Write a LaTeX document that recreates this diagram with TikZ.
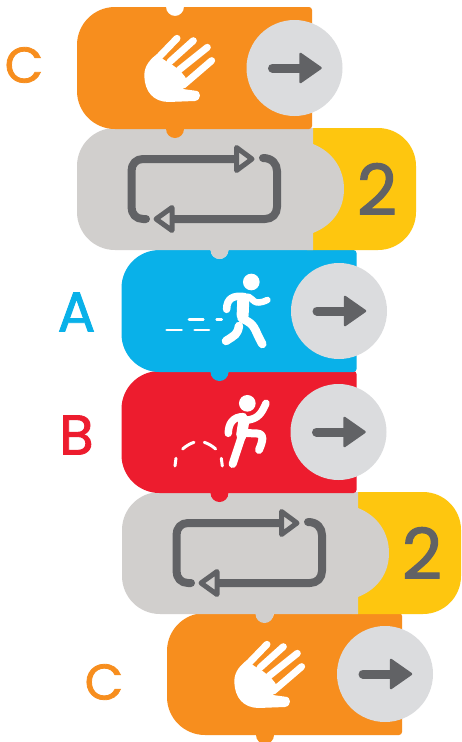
\documentclass[tikz,border=0pt]{standalone}
\usepackage{fontspec}
\setmainfont{Poppins}
\newfontfamily\heavyfont[FakeBold=1.6]{Poppins}
\definecolor{corange}{HTML}{F78E1E}
\definecolor{cgray}{HTML}{D1CFCD}
\definecolor{cyellow}{HTML}{FEC60F}
\definecolor{cblue}{HTML}{09B1E9}
\definecolor{cred}{HTML}{ED1C2E}
\definecolor{ccircle}{HTML}{DBDCDE}
\definecolor{cdark}{HTML}{616265}
\tikzset{
  x=1pt,y=-1pt,
  bigletter/.style={inner sep=0pt,font=\heavyfont\fontsize{50}{50}\selectfont},
  tallletter/.style={inner sep=0pt,font=\heavyfont\fontsize{56}{56}\selectfont},
  countnum/.style={inner sep=0pt,text=cdark,font=\heavyfont\fontsize{70}{70}\selectfont},
  limb/.style={draw=white,line cap=round,line join=round},
  pics/blockshape/.style={code={
    \fill[#1] (38,0) -- (89,0) arc[start angle=180,end angle=0,radius=9] -- (232,0)
      arc[start angle=270,end angle=360,radius=3] -- (235,119)
      arc[start angle=0,end angle=90,radius=3] -- (107,122)
      arc[start angle=0,end angle=180,radius=9] -- (38,122)
      arc[start angle=90,end angle=180,radius=38] -- (0,38)
      arc[start angle=180,end angle=270,radius=38] -- cycle;
  }},
  pics/loopshape/.style={code={
    \fill[cyellow] (230,0) -- (301,0) arc[start angle=270,end angle=360,radius=38]
      -- (339,84) arc[start angle=0,end angle=90,radius=38] -- (230,122) -- cycle;
    \fill[cgray] (38,0) -- (89,0) arc[start angle=180,end angle=0,radius=9] -- (236,0)
      -- (236,16) .. controls (256,24) and (267,41) .. (267,61)
      .. controls (267,81) and (256,97) .. (236,105) -- (236,122)
      -- (151.5,122) arc[start angle=0,end angle=180,radius=9] -- (38,122)
      arc[start angle=90,end angle=180,radius=38] -- (0,38)
      arc[start angle=180,end angle=270,radius=38] -- cycle;
    \draw[cdark,line width=8pt,line cap=round,line join=round]
      (69,91) -- (66,91) .. controls (59,91) and (54.5,86) .. (54.5,79) -- (54.5,43)
      .. controls (54.5,36) and (59,31) .. (66,31) -- (158,31);
    \draw[cdark,line width=8pt,line cap=round,line join=round]
      (186,30) .. controls (195,30) and (200,36) .. (200,43) -- (200,79)
      .. controls (200,86) and (195,91) .. (188,91) -- (97,91);
    \draw[cdark,line width=5pt,line join=round,fill=cgray] (159.5,19.5) -- (175,31) -- (159.5,42.5) -- cycle;
    \draw[cdark,line width=5pt,line join=round,fill=cgray] (95,79.5) -- (79,91) -- (95,102.5) -- cycle;
  }},
  pics/arrowbutton/.style={code={
    \fill[ccircle] (0,0) circle[radius=48];
    \draw[cdark,line width=9pt,line cap=round] (-22,0) -- (8,0);
    \fill[cdark,draw=cdark,line width=2.5pt,line join=round] (6,-14) -- (26,0) -- (6,14) -- cycle;
  }},
  pics/handicon/.style={code={
    \begin{scope}[x=0.3333pt,y=-0.3333pt]
    \fill[white] (80,103) .. controls (52,125) and (42,145) .. (43,170)
      .. controls (45,215) and (70,245) .. (115,246)
      -- (195,243) .. controls (215,240) and (215,212) .. (195,212)
      -- (158,207) -- (175,190) -- (165,170) -- (150,152) -- (125,133) -- (103,120) -- cycle;
    \foreach \a/\b/\c/\d in {88/110/141/55, 120/125/190/62, 147/150/232/82, 160/195/245/122}
      \draw[white,line width=7pt,line cap=round] (\a,\b) -- (\c,\d);
    \end{scope}
  }}
}
\begin{document}
\begin{tikzpicture}
\path[use as bounding box,fill=white] (0,0) rectangle (462,742);
% stacked from bottom to top so that each tab overlies the block below
\pic at (167,613) {blockshape=corange};
\pic at (122,492) {loopshape};
\pic at (121.5,371) {blockshape=cred};
\pic at (121.5,250) {blockshape=cblue};
\pic at (77,128) {loopshape};
\pic at (77,7) {blockshape=corange};
% buttons
\pic at (294.5,68) {arrowbutton};
\pic at (339,311) {arrowbutton};
\pic at (338.5,432) {arrowbutton};
\pic at (385,674) {arrowbutton};
% hands
\pic at (130,20) {handicon};
\pic at (220,626) {handicon};
% runner and jumper
\begin{scope}[shift={(40,240)},x=0.3333pt,y=-0.3333pt]
  \fill[white] (634,126) circle[radius=25];
  \draw[limb,line width=7.5pt] (615,170) .. controls (580,165) and (560,175) .. (560,208);
  \draw[limb,line width=6.5pt] (625,170) .. controls (640,175) and (640,200) .. (682,180);
  \draw[limb,line width=12pt] (610,178) -- (608,225);
  \draw[limb,line width=8.5pt] (605,235) .. controls (650,255) and (640,265) .. (667,312);
  \draw[limb,line width=8.5pt] (597,258) .. controls (592,285) and (585,285) .. (558,303);
  \foreach \a/\b/\c in {380/425/270,464/507/270,447/490/239,530/545/239}
    \draw[limb,line width=2.7pt] (\a,\c) -- (\b,\c);
  \fill[white] (622,490) circle[radius=25];
  \draw[limb,line width=7.5pt] (625,540) .. controls (655,535) and (665,520) .. (678,490);
  \draw[limb,line width=7.5pt] (610,530) .. controls (580,530) and (565,550) .. (565,580);
  \draw[limb,line width=11pt] (612,540) -- (605,585);
  \draw[limb,line width=8pt] (605,590) -- (578,672);
  \draw[limb,line width=8pt] (612,578) .. controls (650,585) and (685,565) .. (657,630);
  \draw[limb,line width=3pt] (405,678) -- (408,655);
  \draw[limb,line width=3pt] (428,627) .. controls (438,618) and (450,611) .. (462,607);
  \draw[limb,line width=3pt] (493,607) .. controls (505,611) and (517,618) .. (527,627);
  \draw[limb,line width=3pt] (544,655) -- (547,678);
\end{scope}
% letters
\node[bigletter,text=corange] (c1) at (24,65) {C};
\node[tallletter,text=cblue] (a) at (76.5,312) {A};
\node[tallletter,text=cred] (b) at (76.5,435) {B};
\node[bigletter,text=corange] (c2) at (104,682) {C};
\node[countnum] (n1) at (377,189) {2};
\node[countnum] (n2) at (422,553) {2};
\end{tikzpicture}
\end{document}
